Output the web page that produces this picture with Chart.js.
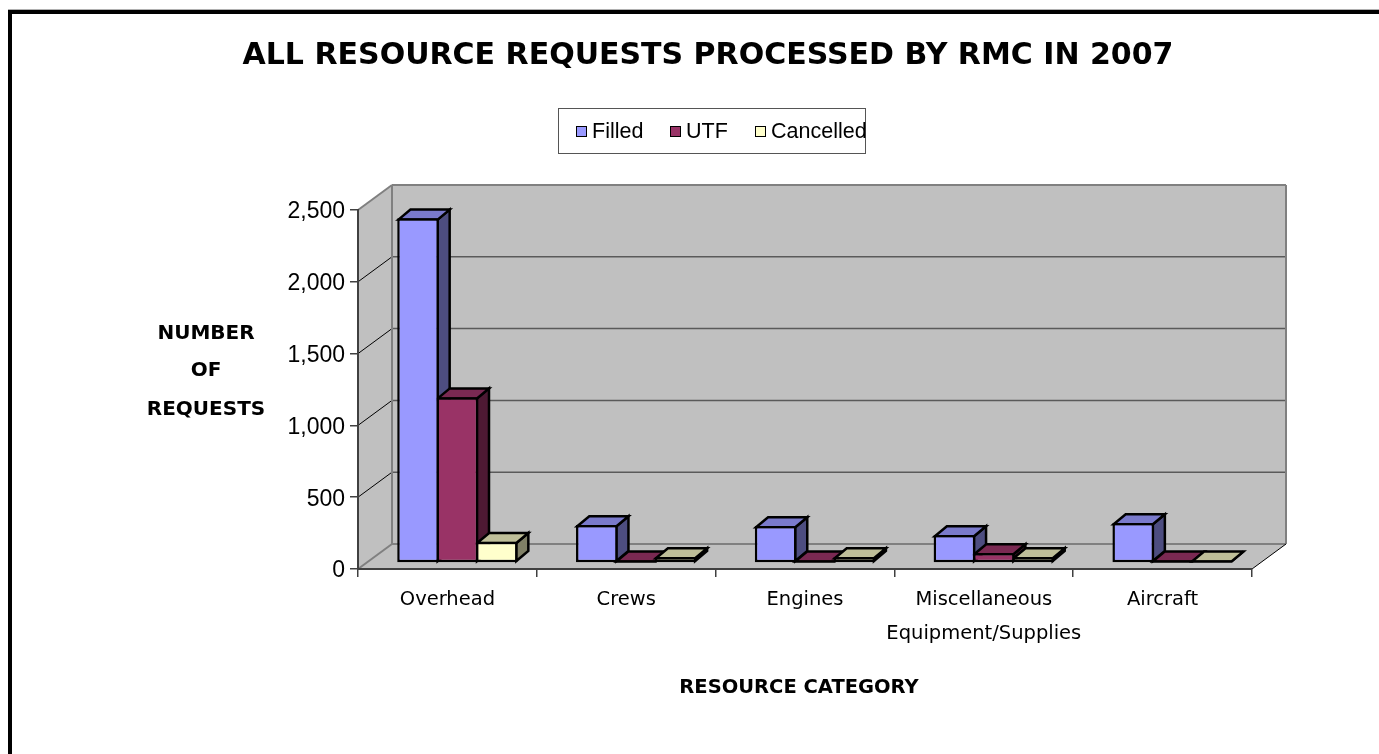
<!DOCTYPE html>
<html>
<head>
<meta charset="utf-8">
<title>All resource requests processed by RMC in 2007</title>
<script src="https://cdn.jsdelivr.net/npm/chart.js@4"></script>
<style>
  html, body { margin: 0; padding: 0; background: #fff; overflow: hidden; }
  #page { position: relative; width: 1379px; height: 754px; }
  #topLine { position: absolute; left: 8px; top: 9px; width: 1371px; height: 1px; background: #b0b0b0; }
  #frame { position: absolute; left: 8px; top: 10px; width: 1371px; height: 744px;
           box-sizing: border-box; border-top: 4px solid #000; border-left: 4px solid #000; }
  canvas { position: absolute; left: 0; top: 0; }
  .label { position: absolute; font-family: "DejaVu Sans", sans-serif; font-weight: bold; color: #000;
           white-space: nowrap; transform: translate(-50%, -50%); }
  #chartTitle { left: 708px; top: 53px; font-size: 30px; }
  #xTitle { left: 799px; top: 686px; font-size: 19.5px; }
  .yTitle { font-size: 20px; }
  #legend { position: absolute; left: 558px; top: 108px; width: 308px; height: 46px; box-sizing: border-box;
            border: 1px solid #555; background: #fff; font-family: "Liberation Sans", Arial, sans-serif;
            font-size: 21.5px; color: #000; }
  .legendItem { position: absolute; top: 10px; line-height: 25px; white-space: nowrap; }
  .swatch { position: absolute; left: 0; top: 7px; width: 9px; height: 9px; border: 1.5px solid #000; box-sizing: content-box; }
  .legendItem span.text { margin-left: 16px; }
</style>
</head>
<body>
<div id="page">
  <div id="topLine"></div>
  <div id="frame"></div>
  <canvas id="requestsChart" width="1379" height="754"></canvas>
  <div id="chartTitle" class="label">ALL RESOURCE REQUESTS PROCESSED BY RMC IN 2007</div>
  <div id="legend"></div>
  <div class="label yTitle" style="left:206px;top:332px">NUMBER</div>
  <div class="label yTitle" style="left:206px;top:369px">OF</div>
  <div class="label yTitle" style="left:206px;top:408px">REQUESTS</div>
  <div id="xTitle" class="label">RESOURCE CATEGORY</div>
</div>

<script>
const categories = ["Overhead", "Crews", "Engines", ["Miscellaneous", "Equipment/Supplies"], "Aircraft"];
const seriesNames = ["Filled", "UTF", "Cancelled"];
const filled = [2400, 265, 258, 195, 278];
const utf = [1155, 20, 20, 70, 20];
const cancelled = [148, 42, 42, 42, 20];
const yMax = 2500;
const yStep = 500;

const frontColors = ["#9999FF", "#993366", "#FFFFCC"];
const topColors = ["#7A7ACC", "#7A2952", "#BFBF99"];
const sideColors = ["#4D4D80", "#4D1933", "#808066"];

const wallDepth = { x: 34, y: -25 };   // depth of the back wall
const barShift = { x: 10, y: -6 };     // bars stand a little behind the front axis
const barDepth = { x: 12, y: -10 };
const legendLefts = [17, 111, 196];

// Legend
const legend = document.getElementById("legend");
seriesNames.forEach((name, i) => {
  const item = document.createElement("div");
  item.className = "legendItem";
  item.style.left = legendLefts[i] + "px";
  const swatch = document.createElement("div");
  swatch.className = "swatch";
  swatch.style.background = frontColors[i];
  const text = document.createElement("span");
  text.className = "text";
  text.textContent = name;
  item.appendChild(swatch);
  item.appendChild(text);
  legend.appendChild(item);
});

function polygon(ctx, points, fill, stroke, width) {
  ctx.beginPath();
  points.forEach((p, i) => (i === 0 ? ctx.moveTo(p[0], p[1]) : ctx.lineTo(p[0], p[1])));
  ctx.closePath();
  if (fill) {
    ctx.fillStyle = fill;
    ctx.fill();
  }
  if (stroke) {
    ctx.strokeStyle = stroke;
    ctx.lineWidth = width;
    ctx.stroke();
  }
}

function line(ctx, x1, y1, x2, y2, color, width) {
  ctx.beginPath();
  ctx.moveTo(x1, y1);
  ctx.lineTo(x2, y2);
  ctx.strokeStyle = color;
  ctx.lineWidth = width;
  ctx.stroke();
}

function drawWalls(chart) {
  const ctx = chart.ctx;
  const area = chart.chartArea;
  const yScale = chart.scales.y;
  const dx = wallDepth.x;
  const dy = wallDepth.y;
  const wall = "#C0C0C0";

  polygon(ctx, [[area.left + dx, area.top + dy], [area.right + dx, area.top + dy],
                [area.right + dx, area.bottom + dy], [area.left + dx, area.bottom + dy]], wall);
  polygon(ctx, [[area.left, area.top], [area.left + dx, area.top + dy],
                [area.left + dx, area.bottom + dy], [area.left, area.bottom]], wall);
  polygon(ctx, [[area.left, area.bottom], [area.right, area.bottom],
                [area.right + dx, area.bottom + dy], [area.left + dx, area.bottom + dy]], wall);

  yScale.ticks.forEach(t => {
    const y = yScale.getPixelForValue(t.value);
    if (t.value === 0 || t.value === yMax) return;
    line(ctx, area.left, y, area.left + dx, y + dy, "#000", 1);
    line(ctx, area.left + dx, y + dy, area.right + dx, y + dy, "#5A5A5A", 1.5);
  });

  // wall edges
  const edge = "#808080";
  line(ctx, area.left, area.top, area.left + dx, area.top + dy, edge, 2);
  line(ctx, area.left + dx, area.top + dy, area.right + dx, area.top + dy, edge, 2);
  line(ctx, area.left + dx, area.top + dy, area.left + dx, area.bottom + dy, edge, 2);
  line(ctx, area.right + dx, area.top + dy, area.right + dx, area.bottom + dy, edge, 2);
  line(ctx, area.left + dx, area.bottom + dy, area.right + dx, area.bottom + dy, edge, 2);
  line(ctx, area.left, area.bottom, area.left + dx, area.bottom + dy, edge, 2);
  line(ctx, area.right, area.bottom, area.right + dx, area.bottom + dy, "#000", 1);
}

// Sides and tops of the bars, Filled first so that its neighbours overlap it
function drawBarFaces(chart) {
  const ctx = chart.ctx;
  const dx = barDepth.x;
  const dy = barDepth.y;
  ctx.translate(barShift.x, barShift.y);
  ctx.lineJoin = "miter";
  seriesNames.forEach((name, i) => {
    chart.getDatasetMeta(i).data.forEach(bar => {
      const p = bar.getProps(["x", "y", "base", "width"], true);
      const left = p.x - p.width / 2 + 1.25;
      const right = p.x + p.width / 2 - 1.25;
      const top = p.y + 1.25;
      const bottom = Math.max(p.base - 1.25, top);
      polygon(ctx, [[right, top], [right + dx, top + dy], [right + dx, bottom + dy], [right, bottom]],
              sideColors[i], "#000", 2.5);
      polygon(ctx, [[left, top], [left + dx, top + dy], [right + dx, top + dy], [right, top]],
              topColors[i], "#000", 2.5);
    });
  });
}

const depthPlugin = {
  id: "depth",
  beforeDatasetsDraw(chart) {
    const ctx = chart.ctx;
    ctx.save();
    drawWalls(chart);
    drawBarFaces(chart);
    ctx.restore();
  },
  // the library paints the front faces, moved back with the same shift
  beforeDatasetDraw(chart) {
    chart.ctx.save();
    chart.ctx.translate(barShift.x, barShift.y);
  },
  afterDatasetDraw(chart) {
    chart.ctx.restore();
  }
};

function makeDataset(index, values) {
  return {
    label: seriesNames[index],
    data: values,
    backgroundColor: frontColors[index],
    borderColor: "#000",
    borderWidth: 2.5,
    borderSkipped: false,
    clip: false,
    barPercentage: 1.06,
    categoryPercentage: 0.66
  };
}

const ctx = document.getElementById("requestsChart").getContext("2d");
new Chart(ctx, {
  type: "bar",
  data: {
    labels: categories,
    datasets: [makeDataset(0, filled), makeDataset(1, utf), makeDataset(2, cancelled)]
  },
  options: {
    responsive: false,
    animation: false,
    layout: { padding: { left: 0, right: 127, top: 210, bottom: 0 } },
    plugins: {
      legend: { display: false },
      tooltip: { enabled: false }
    },
    scales: {
      x: {
        afterFit: scale => { scale.height = 185; },
        border: { color: "#404040", width: 2, z: 1 },
        grid: { drawOnChartArea: false, color: "#404040", lineWidth: 1.5, tickLength: 8 },
        ticks: {
          color: "#000",
          maxRotation: 0,
          autoSkip: false,
          padding: 6,
          font: { family: "'DejaVu Sans', sans-serif", size: 19.5, lineHeight: 1.75 }
        }
      },
      y: {
        min: 0,
        max: yMax,
        afterFit: scale => { scale.width = 358; },
        border: { color: "#404040", width: 2, z: 1 },
        grid: { drawOnChartArea: false, color: "#404040", lineWidth: 1.5, tickLength: 8 },
        ticks: {
          stepSize: yStep,
          color: "#000",
          padding: 5,
          labelOffset: 2,
          font: { family: "'Liberation Sans', Arial, sans-serif", size: 23 },
          callback: v => v.toLocaleString("en-US")
        }
      }
    }
  },
  plugins: [depthPlugin]
});
</script>
</body>
</html>
